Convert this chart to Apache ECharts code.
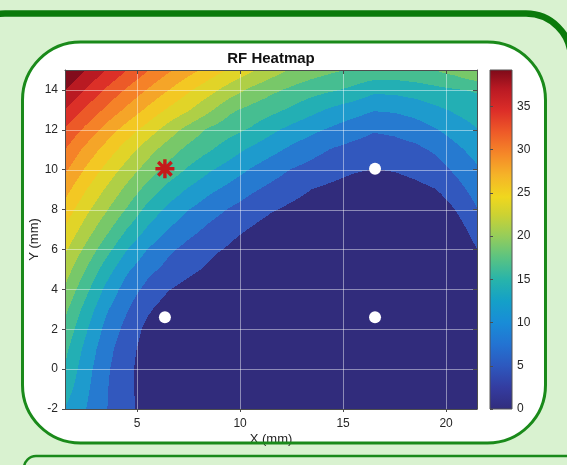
<!DOCTYPE html>
<html><head><meta charset="utf-8">
<script src="https://cdn.jsdelivr.net/npm/echarts@6/dist/echarts.min.js"></script>
<style>html,body{margin:0;padding:0;background:#d9f2d0}#c{width:567px;height:465px}</style>
</head><body><div id="c"></div>
<script>
// ---- grid coordinates of the sampled field ----
const xs = [1.5,2.5,3.5,4.5,5.5,6.5,7.5,8.5,9.5,10.5,11.5,12.5,13.5,14.5,15.5,16.5,17.5,18.5,19.5,20.5,21.5];
const ys = [-2,-1,0,1,2,3,4,5,6,7,8,9,10,11,12,13,14,15];
// ---- field values (one row per y, x left to right) ----
const zYm2 = [9.6,7.4,5.0,3.2,1.3,0.1,0,0,0,0,0,0,0,0,0,0,0,0,0,0,0];
const zYm1 = [11.0,7.9,5.1,3.1,1.3,0.1,0,0,0,0,0,0,0,0,0,0,0,0,0,0,0];
const zY0  = [12.0,8.4,5.3,3.1,1.2,0.1,0,0,0,0,0,0,0,0,0,0,0,0,0,0,0.1];
const zY1  = [12.9,9.1,5.8,3.4,1.4,0.1,0,0,0,0,0,0,0,0,0,0,0,0,0,0,0.1];
const zY2  = [14.0,10.2,6.6,4.1,1.8,0.4,0.1,0,0,0,0,0,0,0,0,0,0,0,0,0,0.2];
const zY3  = [15.3,11.4,7.7,5.1,2.85,1.3,0.2,0.1,0,0,0,0,0,0,0,0,0,0,0,0,0.4];
const zY4  = [16.8,13.0,9.2,6.2,4.2,2.6,1.5,0.5,0.1,0,0,0,0,0,0,0,0,0,0,0,0.6];
const zY5  = [18.4,14.7,11.0,7.8,5.6,4.2,3.1,2.0,0.5,0.1,0,0,0,0,0,0,0,0,0,0.1,1.1];
const zY6  = [20.0,16.6,13.2,9.9,7.3,5.4,4.1,3.1,2.1,0.9,0.2,0.1,0.1,0,0,0,0,0.1,0.1,0.4,2.4];
const zY7  = [21.8,18.5,15.4,12.2,9.5,7.3,5.7,4.4,3.3,2.3,1.3,0.4,0.2,0.1,0.1,0.1,0.1,0.1,0.2,1.3,3.6];
const zY8  = [23.5,20.3,17.4,14.5,11.5,9.2,7.4,5.9,4.7,3.7,2.7,1.9,1.1,0.4,0.2,0.2,0.2,0.3,0.7,2.6,4.8];
const zY9  = [25.4,22.2,19.3,16.5,13.8,11.4,9.5,7.9,6.6,5.3,4.3,3.4,2.4,1.9,1.4,1.0,1.3,1.8,2.4,4.0,5.9];
const zY10 = [27.4,24.2,21.3,18.6,16.1,13.9,11.9,10.1,8.7,7.2,5.9,4.8,4.0,3.3,2.7,2.4,2.6,3.1,3.8,5.4,7.0];
const zY11 = [29.4,26.3,23.5,20.8,18.2,15.9,14.0,12.5,10.9,9.4,8.1,6.8,5.7,4.7,4.1,3.7,3.9,4.3,5.3,6.8,8.3];
const zY12 = [31.6,28.8,26.0,23.4,21.0,18.5,16.2,14.3,13.1,12.0,10.4,9.0,7.9,6.9,5.9,5.1,5.4,6.1,7.2,8.5,9.7];
const zY13 = [34.3,31.5,28.9,26.4,24.0,21.7,19.8,17.6,15.2,14.0,13.0,11.8,10.5,9.3,8.4,7.5,7.7,8.3,9.3,10.2,11.0];
const zY14 = [36.8,34.1,31.5,29.1,26.8,24.6,22.4,20.5,18.5,16.7,15.3,14.2,13.2,12.5,11.7,10.4,10.5,11.0,11.6,12.1,12.5];
const zY15 = [39.2,36.8,34.3,31.9,29.6,27.4,25.5,23.5,21.8,20.1,18.4,16.9,15.9,15.1,14.4,14.1,14.0,14.2,14.8,15.8,17.5];
const field = [zYm2,zYm1,zY0,zY1,zY2,zY3,zY4,zY5,zY6,zY7,zY8,zY9,zY10,zY11,zY12,zY13,zY14,zY15];
// ---- contour levels ----
const levels = [0,2.45,4.9,7.35,9.8,12.25,14.7,17.15,19.6,22.05,24.5,26.95,29.4,31.85,34.3,36.75,39.2];
// ---- markers ----
const anchors = [[6.35,2.6],[16.55,2.6],[16.55,10.05]];
const target = [[6.35,10.05]];
// ---- tick labels ----
const xTicks = [5,10,15,20];
const yTicks = [-2,0,2,4,6,8,10,12,14];
const cbTicks = [0,5,10,15,20,25,30,35];
const xRange = [1.5,21.5];
const yRange = [-2,15];
const cbMax = Math.max(...field.map(r => Math.max(...r)));

const FONT = "'Liberation Sans', Arial, Helvetica, sans-serif";
const cmapStops = [[0,[49,44,124]],[2.5,[52,60,160]],[5,[45,88,190]],[7.5,[35,115,210]],[10,[25,140,215]],[12.5,[20,160,200]],[15,[40,180,170]],[17.5,[90,195,130]],[20,[150,205,90]],[22.5,[205,210,50]],[24.5,[240,215,30]],[27,[245,180,40]],[29.5,[245,135,40]],[32,[238,90,40]],[34.5,[220,45,40]],[37,[185,25,35]],[39.2,[125,10,25]]];
const bandColors = ['rgb(49,44,124)','rgb(50,88,190)','rgb(38,122,208)','rgb(30,155,205)','rgb(35,175,180)','rgb(70,190,145)','rgb(120,200,105)','rgb(175,207,70)','rgb(225,212,40)','rgb(243,200,35)','rgb(245,165,40)','rgb(245,130,40)','rgb(236,90,40)','rgb(220,48,40)','rgb(185,26,34)','rgb(130,12,28)'];
const rgb = c => 'rgb('+c.join(',')+')';
function bandOf(v){ let k=0; while(k<levels.length-2 && v>=levels[k+1]) k++; return k; }
function fieldValue(x,y){
  let i=0; while(i<xs.length-2 && x>xs[i+1]) i++;
  let j=0; while(j<ys.length-2 && y>ys[j+1]) j++;
  const tx=Math.min(1,Math.max(0,(x-xs[i])/(xs[i+1]-xs[i])));
  const ty=Math.min(1,Math.max(0,(y-ys[j])/(ys[j+1]-ys[j])));
  const a=field[j][i], b=field[j][i+1], c=field[j+1][i], d=field[j+1][i+1];
  return (a*(1-tx)+b*tx)*(1-ty)+(c*(1-tx)+d*tx)*ty;
}
function renderField(params, api){
  const tl = api.coord([xs[0], ys[ys.length-1]]);
  const br = api.coord([xs[xs.length-1], ys[0]]);
  const x0=Math.round(tl[0]), x1=Math.round(br[0]), y0=Math.round(tl[1]), y1=Math.round(br[1]);
  const children=[];
  for (let py=y0; py<y1; py++){
    const yv = ys[ys.length-1] + (py+0.5-tl[1])/(br[1]-tl[1])*(ys[0]-ys[ys.length-1]);
    let runStart=x0, runBand=-1;
    for (let px=x0; px<=x1; px++){
      let band=-2;
      if (px<x1){
        const xv = xs[0] + (px+0.5-tl[0])/(br[0]-tl[0])*(xs[xs.length-1]-xs[0]);
        band = bandOf(fieldValue(xv,yv));
      }
      if (band!==runBand){
        if (runBand>=0) children.push({type:'rect',shape:{x:runStart,y:py,width:px-runStart,height:1},style:{fill:bandColors[runBand]}});
        runStart=px; runBand=band;
      }
    }
  }
  return {type:'group',children,silent:true};
}
function renderGridLines(params, api){
  const kind = api.value(0), v = api.value(1);
  let p0, p1;
  if (kind===0){ p0=api.coord([v,yRange[0]]); p1=api.coord([v,yRange[1]]); const x=Math.round(p0[0])+0.5; p0=[x,p0[1]]; p1=[x,p1[1]]; }
  else { p0=api.coord([xRange[0],v]); p1=api.coord([xRange[1],v]); const y=Math.round(p0[1])+0.5; p0=[p0[0],y]; p1=[p1[0],y]; }
  return {type:'line',shape:{x1:p0[0],y1:p0[1],x2:p1[0],y2:p1[1]},style:{stroke:'rgba(255,255,255,0.45)',lineWidth:1},silent:true};
}
function renderColorbar(params, api){
  const p0 = api.coord([0, api.value(1)]);
  const p1 = api.coord([1, api.value(0)]);
  const stops = cmapStops.map(s=>({offset:Math.min(1,s[0]/cbMax),color:rgb(s[1])}));
  return {type:'rect',shape:{x:p0[0],y:p0[1],width:p1[0]-p0[0],height:p1[1]-p0[1]},
    style:{fill:new echarts.graphic.LinearGradient(0,1,0,0,stops),stroke:'#555',lineWidth:1},silent:true};
}
function asteriskPath(){
  let d='';
  [0,45,90,135].forEach(a=>{
    const t=a*Math.PI/180, ux=Math.cos(t), uy=Math.sin(t), nx=-uy, ny=ux, L=10, W=1.8;
    const pts=[[10+L*ux+W*nx,10+L*uy+W*ny],[10-L*ux+W*nx,10-L*uy+W*ny],[10-L*ux-W*nx,10-L*uy-W*ny],[10+L*ux-W*nx,10+L*uy-W*ny]];
    d+='M'+pts.map(p=>p[0].toFixed(2)+' '+p[1].toFixed(2)).join(' L')+' Z ';
  });
  return 'path://'+d;
}
const AX = '#4d4d4d', TXT = '#262626';
const chart = echarts.init(document.getElementById('c'), null, {renderer:'canvas'});
const boxShape = {x:22.5,y:42,width:523,height:401,r:58};
chart.setOption({
  animation:false,
  backgroundColor:'#d9f2d0',
  graphic:[
    {type:'rect',z:-20,silent:true,shape:{x:-40,y:13.5,width:611,height:700,r:45},style:{fill:'none',stroke:'#0b7a0b',lineWidth:6.5}},
    {type:'rect',z:-20,silent:true,shape:{x:24,y:456,width:620,height:100,r:12},style:{fill:'none',stroke:'#1a8a1a',lineWidth:2.5}},
    {type:'rect',z:-15,silent:true,shape:boxShape,style:{fill:'#ffffff',stroke:'none'}},
    {type:'rect',z:100,silent:true,shape:boxShape,style:{fill:'none',stroke:'#1a8a1a',lineWidth:3}},
    {type:'text',z:50,silent:true,x:271,y:59,style:{text:'RF Heatmap',align:'center',verticalAlign:'middle',textAlign:'center',textVerticalAlign:'middle',font:'bold 15px '+FONT,fill:'#111'}}
  ],
  grid:[
    {left:65,top:70,width:412,height:339},
    {left:490,top:70,width:22,height:339}
  ],
  xAxis:[
    {gridIndex:0,type:'value',min:xRange[0],max:xRange[1],position:'bottom',z:5,
     axisLine:{show:true,onZero:false,lineStyle:{color:AX}},
     axisTick:{show:true,inside:false,length:3,customValues:xTicks,lineStyle:{color:AX}},
     axisLabel:{customValues:xTicks,margin:9,fontSize:12,color:TXT,fontFamily:FONT},
     splitLine:{show:false},
     name:'X (mm)',nameLocation:'middle',nameGap:24,nameMoveOverlap:false,nameTextStyle:{fontSize:13,color:TXT,fontFamily:FONT}},
    {gridIndex:0,type:'value',min:xRange[0],max:xRange[1],position:'top',z:5,
     axisLine:{show:true,onZero:false,lineStyle:{color:AX}},
     axisTick:{show:true,inside:true,length:4,customValues:xTicks,lineStyle:{color:AX}},
     axisLabel:{show:false},splitLine:{show:false}},
    {gridIndex:1,type:'value',min:0,max:1,show:false}
  ],
  yAxis:[
    {gridIndex:0,type:'value',min:yRange[0],max:yRange[1],position:'left',z:5,
     axisLine:{show:true,onZero:false,lineStyle:{color:AX}},
     axisTick:{show:true,inside:false,length:3,customValues:yTicks,lineStyle:{color:AX}},
     axisLabel:{customValues:yTicks,margin:7,fontSize:12,color:TXT,fontFamily:FONT},
     splitLine:{show:false},
     name:'Y (mm)',nameLocation:'middle',nameGap:24,nameMoveOverlap:false,nameTextStyle:{fontSize:13,color:TXT,fontFamily:FONT}},
    {gridIndex:0,type:'value',min:yRange[0],max:yRange[1],position:'right',z:5,
     axisLine:{show:true,onZero:false,lineStyle:{color:AX}},
     axisTick:{show:true,inside:true,length:4,customValues:yTicks,lineStyle:{color:AX}},
     axisLabel:{show:false},splitLine:{show:false}},
    {gridIndex:1,type:'value',min:0,max:cbMax,position:'right',z:5,
     axisLine:{show:false},
     axisTick:{show:true,inside:false,length:3,customValues:cbTicks,lineStyle:{color:AX}},
     axisLabel:{customValues:cbTicks,margin:5,fontSize:12,color:TXT,fontFamily:FONT},
     splitLine:{show:false}}
  ],
  series:[
    {type:'custom',name:'field',xAxisIndex:0,yAxisIndex:0,z:1,silent:true,renderItem:renderField,data:[[xs[0],ys[0]]]},
    {type:'custom',name:'grid',xAxisIndex:0,yAxisIndex:0,z:3,silent:true,renderItem:renderGridLines,
     data:xTicks.map(v=>[0,v]).concat(yTicks.map(v=>[1,v]))},
    {type:'scatter',name:'anchors',xAxisIndex:0,yAxisIndex:0,z:10,symbol:'circle',symbolSize:12,
     itemStyle:{color:'#ffffff',opacity:1},data:anchors,silent:true},
    {type:'scatter',name:'target',xAxisIndex:0,yAxisIndex:0,z:11,symbol:asteriskPath(),symbolSize:19,
     itemStyle:{color:'#c41a1a',opacity:1},data:target,silent:true},
    {type:'custom',name:'colorbar',xAxisIndex:2,yAxisIndex:2,z:1,silent:true,renderItem:renderColorbar,data:[[0,cbMax]]}
  ]
});
</script></body></html>
